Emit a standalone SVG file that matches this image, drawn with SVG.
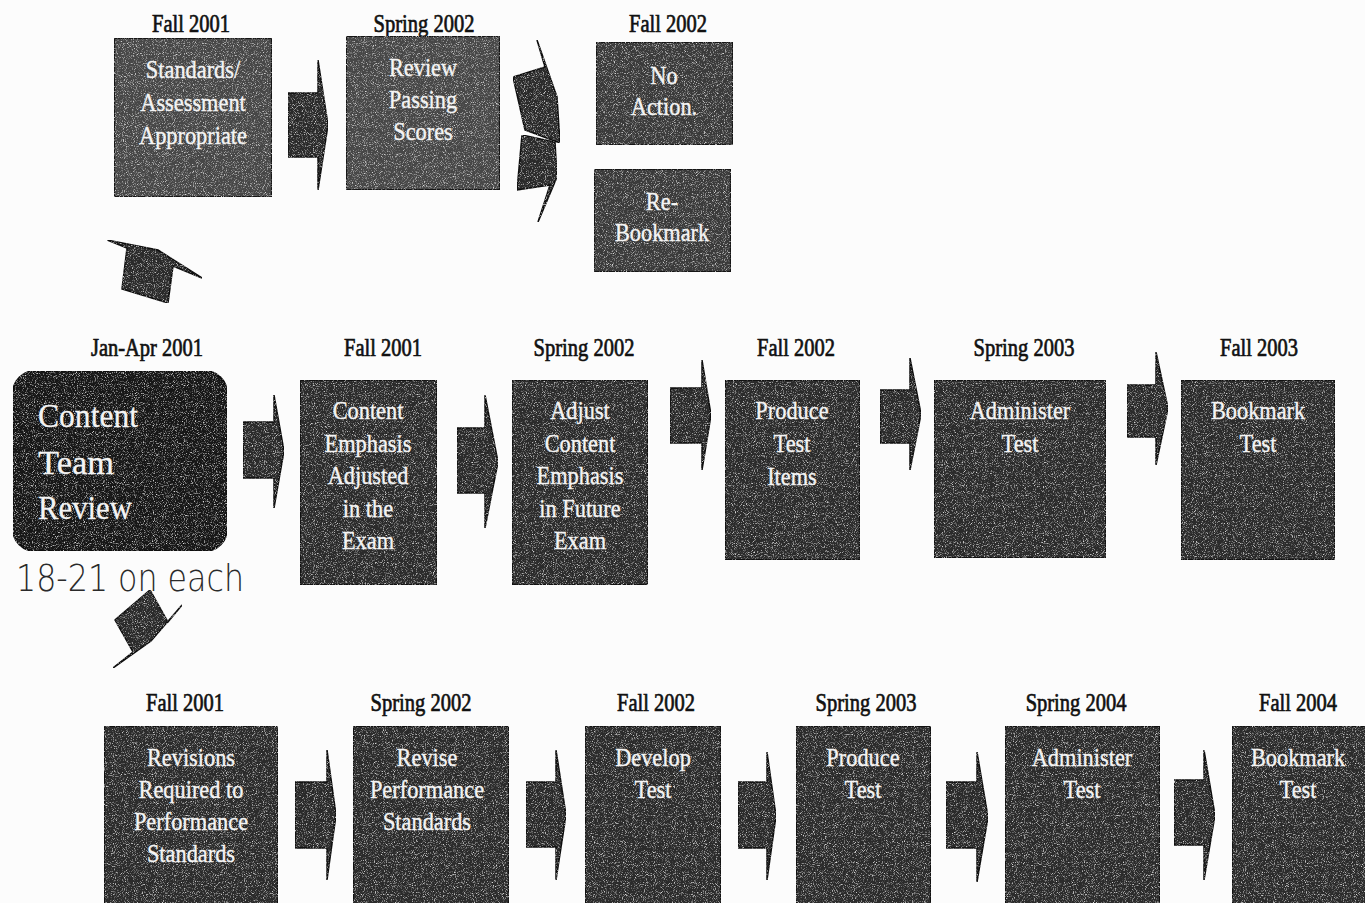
<svg xmlns="http://www.w3.org/2000/svg" width="1365" height="903" viewBox="0 0 1365 903">
<defs>
<filter id="grain" x="0" y="0" width="100%" height="100%" color-interpolation-filters="sRGB">
<feTurbulence type="fractalNoise" baseFrequency="1.1" numOctaves="2" seed="7" result="n"/>
<feColorMatrix in="n" type="matrix" values="0 0 0 0 0.85  0 0 0 0 0.85  0 0 0 0 0.85  0 0 0 3 -1.55" result="w"/>
<feComposite in="w" in2="SourceGraphic" operator="in" result="ws"/>
<feMerge><feMergeNode in="SourceGraphic"/><feMergeNode in="ws"/></feMerge>
</filter>
</defs>
<style>
.lbl{font-family:"Liberation Serif",serif;font-size:25px;fill:#111;stroke:#111;stroke-width:0.7;text-anchor:middle;transform:scaleX(0.82);transform-box:fill-box;transform-origin:center}
.bt{font-family:"Liberation Serif",serif;font-size:26px;fill:#f4f4f4;stroke:#f4f4f4;stroke-width:0.4;text-anchor:middle;transform:scaleX(0.86);transform-box:fill-box;transform-origin:center}
.box{fill:#2b2b2b;stroke:#111;stroke-width:2;filter:url(#grain)}
.boxl{fill:#474747;stroke:#151515;stroke-width:2;filter:url(#grain)}
.arr{fill:#2a2a2a;stroke:#0d0d0d;stroke-width:1.5;filter:url(#grain)}
.big{font-family:"Liberation Serif",serif;font-size:34px;fill:#f4f4f4;stroke:#f4f4f4;stroke-width:0.3}
.hand{font-family:"DejaVu Sans","Liberation Sans",sans-serif;font-weight:200;font-size:38px;fill:#2a2a2a}
</style>
<rect x="0" y="0" width="1365" height="903" fill="#fcfcfc"/>

<g id="connectors">
<polygon class="arr" points="288,93 318,93 318,60 328,125 318,190 318,157 288,157"/>
<polygon class="arr" points="513,77 545,67 537,40 557,97 560,143 525,130"/>
<polygon class="arr" points="522,135 555,142 557,177 538,222 550,185 517,190"/>
<polygon class="arr" points="107,240 158,250 202,278 173,266 168,303 122,289 127,248"/>
<polygon class="arr" points="150,590 115,620 133,652 113,668 151,641 182,605 168,622"/>
<polygon class="arr" points="243,422 274,422 274,395 284,451 274,508 274,478 243,478"/>
<polygon class="arr" points="457,428 485,428 485,395 498,462 485,528 485,493 457,493"/>
<polygon class="arr" points="670,388 702,388 702,360 711,415 702,470 702,443 670,443"/>
<polygon class="arr" points="880,390 910,390 910,358 921,414 910,470 910,443 880,443"/>
<polygon class="arr" points="1127,385 1156,385 1156,352 1168,408 1156,465 1156,437 1127,437"/>
<polygon class="arr" points="295,782 327,782 327,750 336,815 327,880 327,848 295,848"/>
<polygon class="arr" points="526,782 556,782 556,750 566,815 556,880 556,847 526,847"/>
<polygon class="arr" points="738,782 767,782 767,752 776,816 767,880 767,848 738,848"/>
<polygon class="arr" points="946,782 977,782 977,752 988,817 977,882 977,848 946,848"/>
<polygon class="arr" points="1174,780 1204,780 1204,750 1215,815 1204,880 1204,845 1174,845"/>
</g>

<g id="top-fall2001">
<text class="lbl" x="191" y="32">Fall 2001</text>
<rect class="boxl" x="114" y="38" width="158" height="159"/>
<text class="bt" x="193" y="78">Standards/</text>
<text class="bt" x="193" y="111">Assessment</text>
<text class="bt" x="193" y="144">Appropriate</text>
</g>
<g id="top-spring2002">
<text class="lbl" x="424" y="32">Spring 2002</text>
<rect class="boxl" x="346" y="36" width="154" height="154"/>
<text class="bt" x="423" y="76">Review</text>
<text class="bt" x="423" y="108">Passing</text>
<text class="bt" x="423" y="140">Scores</text>
</g>
<g id="top-fall2002-noaction">
<text class="lbl" x="668" y="32">Fall 2002</text>
<rect class="boxl" x="596" y="42" width="137" height="103" style="fill:#3a3a3a"/>
<text class="bt" x="664" y="84">No</text>
<text class="bt" x="664" y="115">Action.</text>
</g>
<g id="top-fall2002-rebookmark">
<rect class="boxl" x="594" y="169" width="137" height="103" style="fill:#3a3a3a"/>
<text class="bt" x="662" y="210">Re-</text>
<text class="bt" x="662" y="241">Bookmark</text>
</g>

<g id="content-team-review">
<text class="lbl" x="147" y="356">Jan-Apr 2001</text>
<rect x="13" y="371" width="214" height="180" rx="22" fill="#171717" stroke="#0d0d0d" stroke-width="2" style="filter:url(#grain)"/>
<text class="big" x="38" y="427" textLength="100" lengthAdjust="spacingAndGlyphs">Content</text>
<text class="big" x="38" y="474" textLength="76" lengthAdjust="spacingAndGlyphs">Team</text>
<text class="big" x="38" y="519" textLength="94" lengthAdjust="spacingAndGlyphs">Review</text>
<text class="hand" x="16" y="591" textLength="228" lengthAdjust="spacingAndGlyphs">18-21 on each</text>
</g>

<g id="mid-fall2001">
<text class="lbl" x="383" y="356">Fall 2001</text>
<rect class="box" x="300" y="380" width="137" height="205"/>
<text class="bt" x="368" y="419">Content</text>
<text class="bt" x="368" y="452">Emphasis</text>
<text class="bt" x="368" y="484">Adjusted</text>
<text class="bt" x="368" y="517">in the</text>
<text class="bt" x="368" y="549">Exam</text>
</g>
<g id="mid-spring2002">
<text class="lbl" x="584" y="356">Spring 2002</text>
<rect class="box" x="512" y="380" width="136" height="205"/>
<text class="bt" x="580" y="419">Adjust</text>
<text class="bt" x="580" y="452">Content</text>
<text class="bt" x="580" y="484">Emphasis</text>
<text class="bt" x="580" y="517">in Future</text>
<text class="bt" x="580" y="549">Exam</text>
</g>
<g id="mid-fall2002">
<text class="lbl" x="796" y="356">Fall 2002</text>
<rect class="box" x="725" y="380" width="135" height="180"/>
<text class="bt" x="792" y="419">Produce</text>
<text class="bt" x="792" y="452">Test</text>
<text class="bt" x="792" y="485">Items</text>
</g>
<g id="mid-spring2003">
<text class="lbl" x="1024" y="356">Spring 2003</text>
<rect class="box" x="934" y="380" width="172" height="178"/>
<text class="bt" x="1020" y="419">Administer</text>
<text class="bt" x="1020" y="452">Test</text>
</g>
<g id="mid-fall2003">
<text class="lbl" x="1259" y="356">Fall 2003</text>
<rect class="box" x="1181" y="380" width="154" height="180"/>
<text class="bt" x="1258" y="419">Bookmark</text>
<text class="bt" x="1258" y="452">Test</text>
</g>

<g id="bot-fall2001">
<text class="lbl" x="185" y="711">Fall 2001</text>
<rect class="box" x="104" y="726" width="174" height="180"/>
<text class="bt" x="191" y="766">Revisions</text>
<text class="bt" x="191" y="798">Required to</text>
<text class="bt" x="191" y="830">Performance</text>
<text class="bt" x="191" y="862">Standards</text>
</g>
<g id="bot-spring2002">
<text class="lbl" x="421" y="711">Spring 2002</text>
<rect class="box" x="353" y="726" width="156" height="180"/>
<text class="bt" x="427" y="766">Revise</text>
<text class="bt" x="427" y="798">Performance</text>
<text class="bt" x="427" y="830">Standards</text>
</g>
<g id="bot-fall2002">
<text class="lbl" x="656" y="711">Fall 2002</text>
<rect class="box" x="585" y="726" width="136" height="180"/>
<text class="bt" x="653" y="766">Develop</text>
<text class="bt" x="653" y="798">Test</text>
</g>
<g id="bot-spring2003">
<text class="lbl" x="866" y="711">Spring 2003</text>
<rect class="box" x="796" y="726" width="135" height="180"/>
<text class="bt" x="863" y="766">Produce</text>
<text class="bt" x="863" y="798">Test</text>
</g>
<g id="bot-spring2004">
<text class="lbl" x="1076" y="711">Spring 2004</text>
<rect class="box" x="1005" y="726" width="155" height="180"/>
<text class="bt" x="1082" y="766">Administer</text>
<text class="bt" x="1082" y="798">Test</text>
</g>
<g id="bot-fall2004">
<text class="lbl" x="1298" y="711">Fall 2004</text>
<rect class="box" x="1232" y="726" width="136" height="180"/>
<text class="bt" x="1298" y="766">Bookmark</text>
<text class="bt" x="1298" y="798">Test</text>
</g>
</svg>
